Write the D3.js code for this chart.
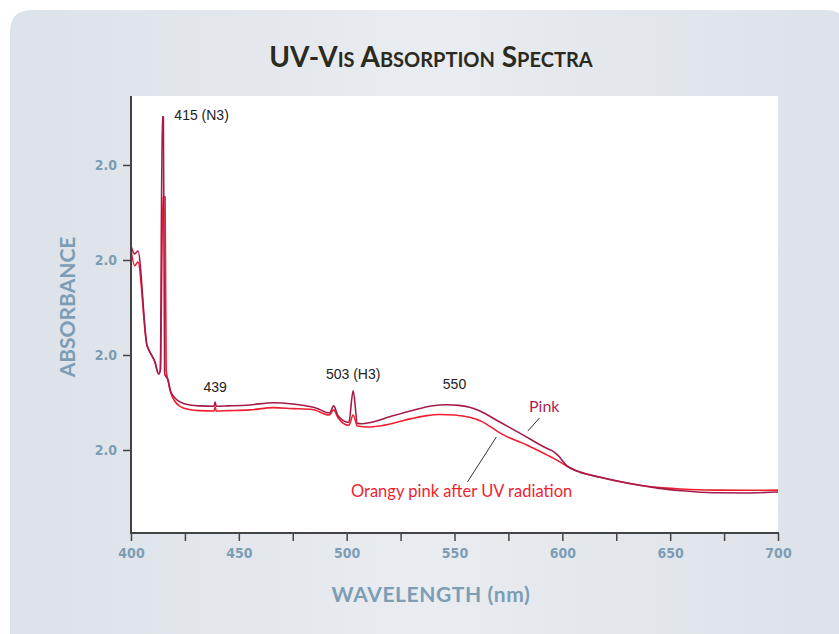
<!DOCTYPE html>
<html>
<head>
<meta charset="utf-8">
<script src="https://cdn.jsdelivr.net/npm/d3@7"></script>
<style>
  html, body { margin: 0; padding: 0; background: #ffffff; }
  svg { display: block; }
</style>
</head>
<body>
<svg id="chart" width="839" height="634"></svg>
<script>
// Wavelength (nm) / absorbance pairs for the two spectra
const pinkWavelength = [400, 401.7, 403.2, 407.4, 408.3, 411.1, 412.8, 413.6, 414.5, 415.0, 415.6, 417.2, 418.1, 420.4, 422.7, 427.4, 432, 438.5, 439, 439.5, 445, 455, 466, 475, 484, 486, 492, 494, 496, 501, 503, 505, 507, 511, 520, 530, 540, 546, 552, 557, 561.8, 571, 583.5, 588, 592, 595, 598, 602, 605, 608, 617, 625, 645, 655, 670, 685, 700];
const pinkAbsorbance = [1.574, 1.532, 1.547, 1.053, 1.026, 0.963, 0.900, 0.920, 2.253, 2.253, 0.900, 0.868, 0.816, 0.774, 0.753, 0.737, 0.732, 0.730, 0.753, 0.730, 0.732, 0.737, 0.749, 0.742, 0.726, 0.720, 0.695, 0.732, 0.680, 0.645, 0.812, 0.640, 0.638, 0.645, 0.675, 0.707, 0.733, 0.738, 0.735, 0.725, 0.705, 0.647, 0.568, 0.538, 0.513, 0.498, 0.472, 0.418, 0.397, 0.384, 0.358, 0.338, 0.298, 0.286, 0.275, 0.274, 0.279];

const orangyWavelength = [400, 401.7, 403.2, 407.4, 408.3, 411.1, 412.8, 413.6, 414.8, 415.8, 416.3, 417.5, 418.5, 420.4, 422.7, 427.4, 432, 438.5, 439, 439.5, 445, 455, 466, 475, 484, 492, 494, 496, 501, 503, 505, 510, 515, 522, 530, 537, 543, 550, 557, 563, 567, 571, 583.5, 589, 593, 596, 602, 608, 617, 625, 645, 655, 670, 685, 700];
const orangyAbsorbance = [1.553, 1.470, 1.489, 1.050, 1.026, 0.963, 0.900, 0.920, 1.832, 1.832, 0.920, 0.850, 0.800, 0.755, 0.730, 0.712, 0.707, 0.705, 0.728, 0.705, 0.707, 0.711, 0.723, 0.718, 0.713, 0.684, 0.711, 0.670, 0.630, 0.684, 0.626, 0.621, 0.626, 0.642, 0.665, 0.681, 0.687, 0.684, 0.672, 0.648, 0.620, 0.590, 0.526, 0.496, 0.473, 0.456, 0.416, 0.384, 0.358, 0.337, 0.302, 0.295, 0.289, 0.288, 0.289];

// Axis ticks
const xTickValues = [400, 425, 450, 475, 500, 525, 550, 575, 600, 625, 650, 675, 700];
const xTickLabels = ["400", "", "450", "", "500", "", "550", "", "600", "", "650", "", "700"];
const yTickValues = [0.5, 1.0, 1.5, 2.0];
const yTickLabels = ["2.0", "2.0", "2.0", "2.0"];

// Peak annotations: [wavelength, absorbance anchor, text]
const peakLabels = [
  [415, 2.253, "415 (N3)"],
  [439, 0.753, "439"],
  [503, 0.812, "503 (H3)"],
  [550, 0.737, "550"]
];

const svg = d3.select("#chart");
const W = 839, H = 634;
const plot = { left: 131, right: 778, top: 96, bottom: 533 };

// Background panel with soft horizontal gradient
const defs = svg.append("defs");
const grad = defs.append("linearGradient").attr("id", "panelGrad")
  .attr("x1", "0%").attr("x2", "100%").attr("y1", "0%").attr("y2", "0%");
grad.append("stop").attr("offset", "0%").attr("stop-color", "#dce2e9");
grad.append("stop").attr("offset", "50%").attr("stop-color", "#e9ecf0");
grad.append("stop").attr("offset", "100%").attr("stop-color", "#dce2e9");

svg.append("path")
  .attr("d", `M10,${H} L10,32 Q10,10 32,10 L${W - 14},10 Q${W + 8},10 ${W + 8},32 L${W + 8},${H} Z`)
  .attr("fill", "url(#panelGrad)");

// Plot area
svg.append("rect")
  .attr("x", plot.left).attr("y", plot.top)
  .attr("width", plot.right - plot.left).attr("height", plot.bottom - plot.top)
  .attr("fill", "#ffffff");

const x = d3.scaleLinear().domain([400, 700]).range([plot.left, plot.right]);
const y = d3.scaleLinear().domain([0.0632, 2.363]).range([plot.bottom, plot.top]);

// Spectra
const line = d3.line()
  .x(d => x(d[0])).y(d => y(d[1]))
  .curve(d3.curveMonotoneX);

const orangy = orangyWavelength.map((w, i) => [w, orangyAbsorbance[i]]);
const pink = pinkWavelength.map((w, i) => [w, pinkAbsorbance[i]]);

svg.append("path").datum(orangy)
  .attr("d", line).attr("fill", "none")
  .attr("stroke", "#ee1f30").attr("stroke-width", 1.6)
  .attr("stroke-linejoin", "round");
svg.append("path").datum(pink)
  .attr("d", line).attr("fill", "none")
  .attr("stroke", "#a61a4a").attr("stroke-width", 1.6)
  .attr("stroke-linejoin", "round");

// Axes
const axisColor = "#444444";
const tickFont = "'Liberation Sans Narrow', 'DejaVu Sans Condensed', 'Liberation Sans', sans-serif";
const labelBlue = "#7c9db4";

const xAxis = svg.append("g")
  .attr("transform", `translate(0,${plot.bottom})`)
  .call(d3.axisBottom(x).tickValues(xTickValues)
    .tickFormat((d, i) => xTickLabels[i]).tickSizeInner(8).tickSizeOuter(0).tickPadding(7));
const yAxis = svg.append("g")
  .attr("transform", `translate(${plot.left},0)`)
  .call(d3.axisLeft(y).tickValues(yTickValues)
    .tickFormat((d, i) => yTickLabels[i]).tickSizeInner(8).tickSizeOuter(0).tickPadding(6));

[xAxis, yAxis].forEach(g => {
  g.select(".domain").attr("stroke", axisColor).attr("stroke-width", 2);
  g.selectAll(".tick line").attr("stroke", axisColor).attr("stroke-width", 1.5);
  g.selectAll(".tick text")
    .attr("fill", labelBlue)
    .attr("font-family", tickFont)
    .attr("font-weight", "bold")
    .attr("font-size", 14);
});
// spines run the full height and width of the plot area
yAxis.select(".domain").attr("d", `M0,${plot.top}V${plot.bottom + 1}`);
xAxis.select(".domain").attr("d", `M${plot.left - 1},0H${plot.right + 1}`);

// Title
const humanist = "Lato, 'Open Sans', 'Noto Sans', sans-serif";
svg.append("text")
  .attr("x", 431).attr("y", 67)
  .attr("text-anchor", "middle")
  .attr("font-family", humanist)
  .attr("font-weight", "bold")
  .attr("font-size", 28)
  .style("font-variant", "small-caps")
  .attr("fill", "#2b2a1e")
  .text("UV-Vis Absorption Spectra");

// Axis titles
svg.append("text")
  .attr("transform", `translate(75,307) rotate(-90)`)
  .attr("text-anchor", "middle")
  .attr("font-family", humanist)
  .attr("font-weight", "bold")
  .attr("font-size", 21)
  .attr("fill", labelBlue)
  .text("ABSORBANCE");
svg.append("text")
  .attr("x", 431).attr("y", 602)
  .attr("text-anchor", "middle")
  .attr("font-family", humanist)
  .attr("font-weight", "bold")
  .attr("font-size", 21)
  .attr("letter-spacing", 0.6)
  .attr("fill", labelBlue)
  .text("WAVELENGTH (nm)");

// Peak labels
const peakFont = "'Liberation Sans', Arial, sans-serif";
const peakOffsets = { "415 (N3)": [11, 3, "start"], "439": [0, -10, "middle"], "503 (H3)": [0, -12, "middle"], "550": [0, -16, "middle"] };
svg.append("g").selectAll("text").data(peakLabels).join("text")
  .attr("x", d => x(d[0]) + peakOffsets[d[2]][0])
  .attr("y", d => y(d[1]) + peakOffsets[d[2]][1])
  .attr("text-anchor", d => peakOffsets[d[2]][2])
  .attr("font-family", peakFont)
  .attr("font-size", 14)
  .attr("fill", "#222222")
  .text(d => d[2]);

// Series labels with leader lines
svg.append("text")
  .attr("x", 529).attr("y", 412)
  .attr("font-family", humanist)
  .attr("font-size", 16)
  .attr("fill", "#b01f4d")
  .text("Pink");
svg.append("line")
  .attr("x1", x(589.4)).attr("y1", 418).attr("x2", x(584)).attr("y2", 431)
  .attr("stroke", "#333").attr("stroke-width", 1);

svg.append("text")
  .attr("x", 351).attr("y", 497)
  .attr("font-family", humanist)
  .attr("font-size", 16.5)
  .attr("fill", "#ee1f30")
  .text("Orangy pink after UV radiation");
svg.append("line")
  .attr("x1", x(569.4)).attr("y1", 437).attr("x2", x(556)).attr("y2", 482)
  .attr("stroke", "#333").attr("stroke-width", 1);
</script>
</body>
</html>
